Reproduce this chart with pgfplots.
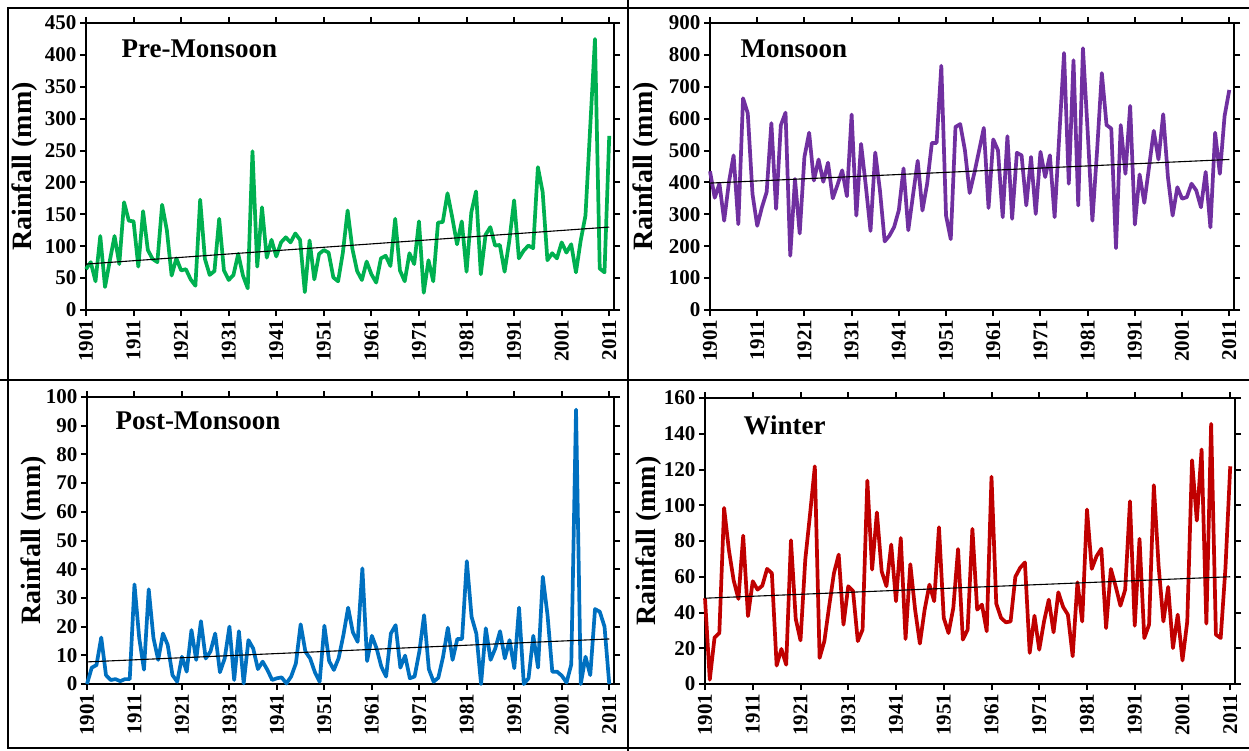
\documentclass[border=0pt]{standalone}
\usepackage{fontspec}
\setmainfont{Liberation Serif}
\usepackage{pgfplots}
\usepackage{pgfplotstable}
\pgfplotsset{compat=1.18}

\definecolor{premon}{RGB}{0,176,80}
\definecolor{mon}{RGB}{112,48,160}
\definecolor{postmon}{RGB}{0,112,192}
\definecolor{winter}{RGB}{192,0,0}

% Seasonal rainfall (mm), 1901-2011
\pgfplotstableread{
year pre mon post win
1901 64 435 0 48
1902 75 352 5.7 2.4
1903 45 396 6.6 26
1904 116 280 16.2 28.5
1905 36 400 3.1 98.5
1906 77 485 1.4 75
1907 116 269 1.7 58
1908 72 664 1.0 47.6
1909 169 617 1.7 83
1910 140 364 1.7 38
1911 139 264 34.7 57.5
1912 68 322 16 52.8
1913 155 370 5 55
1914 94 586 33 64.4
1915 80 317 16 62
1916 75 579 8.4 10.3
1917 165 619 17.6 19.6
1918 125 170 13.6 10.8
1919 54 411 3.1 80.4
1920 81 240 0.8 36.4
1921 62 480 9.5 24.4
1922 64 556 4.3 69.6
1923 48 406 18.8 95
1924 38 472 8.4 121.8
1925 173 402 21.9 14.6
1926 80 462 8.9 24
1927 55 350 11.3 43.5
1928 61 392 17.6 62
1929 143 438 4.1 72.4
1930 62 357 8.9 33.2
1931 47 613 20 54.7
1932 55 296 1.4 52
1933 88 521 18.4 24
1934 54 390 0.2 30.4
1935 34 248 15.3 113.8
1936 249 494 12.4 64
1937 68 375 5.2 96
1938 161 215 7.8 63
1939 82 233 4.9 54.7
1940 110 260 1.4 78
1941 84 313 2.0 46.3
1942 106 444 2.3 81.7
1943 114 250 0.2 25.2
1944 106 360 2.6 67
1945 120 468 7.2 41.6
1946 110 312 20.8 22.6
1947 28 396 11.3 41.6
1948 109 524 8.9 55.6
1949 48 524 4.1 46.3
1950 88 766 0.8 87.7
1951 94 296 20.3 37
1952 90 222 8 28.5
1953 51 574 4.9 42.5
1954 45 583 9 75.5
1955 90 501 17 24.8
1956 156 367 26.6 30.4
1957 96 430 18 86.8
1958 61 500 14.7 41.6
1959 47 571 40.3 44.4
1960 76 320 8 29.5
1961 56 535 16.8 115.9
1962 43 501 12.4 45
1963 81 291 6 37
1964 85 545 2.6 34.5
1965 69 286 17.6 35
1966 143 493 20.5 60
1967 62 485 5.7 65
1968 45 328 9.9 68
1969 89 480 2.0 17.4
1970 72 301 2.6 38.2
1971 139 496 11.3 19.2
1972 27 417 24 35
1973 78 485 5.2 47.2
1974 45 291 0.8 28.9
1975 137 550 2.2 51.3
1976 138 806 9.5 43.1
1977 183 396 19.6 38.8
1978 145 783 8.4 15.5
1979 103 328 15.7 56.9
1980 139 821 15.7 35
1981 60 560 42.8 97.6
1982 153 280 23.4 64.4
1983 186 501 17.6 71.5
1984 56 743 0 75.7
1985 118 580 19.4 31.3
1986 130 569 8.4 64.4
1987 101 194 12.4 54.7
1988 102 580 18.4 43.8
1989 60 427 8.9 52.8
1990 109 640 15.3 102.2
1991 172 268 5.5 32.6
1992 81 425 26.6 81.2
1993 93 336 0 25.7
1994 101 448 2.0 33.2
1995 97 562 16.8 111.2
1996 224 472 5.7 65.9
1997 185 614 37.4 35
1998 78 417 24 54.3
1999 89 296 4.3 20.1
2000 81 385 4.3 38.8
2001 106 349 2.9 13.2
2002 90 354 0.5 35
2003 103 396 6.8 125.2
2004 59 375 95.6 91.4
2005 109 322 0 131.2
2006 148 433 9.5 33.8
2007 287 259 3.1 145.5
2008 425 556 26.1 27.6
2009 65 427 25.2 25.7
2010 59 608 20 65
2011 273 690 0 121.8
}\seasons

\pgfplotsset{
  panel/.style={
    scale only axis,
    anchor=south west,
    xmin=1901, xmax=2012,
    xtick={1901,1911,...,2011},
    ymin=0,
    axis line style={line width=2.2pt},
    tick align=outside,
    major tick length=6pt,
    every tick/.style={black, line width=2pt},
    tick label style={font=\fontsize{21}{21}\selectfont\bfseries},
    xticklabel style={rotate=90, anchor=east},
    /pgf/number format/assume math mode=true,
    /pgf/number format/1000 sep={},
    ylabel={Rainfall (mm)},
    ylabel style={font=\fontsize{28}{28}\selectfont\bfseries, anchor=center},
    clip=false,
  },
}
\tikzset{
  series/.style={line width=3.7pt, line join=round},
  trend/.style={black, line width=1.1pt},
  season/.style={anchor=base west, font=\fontsize{27}{27}\selectfont\bfseries},
}

\begin{document}
\begin{tikzpicture}
\path[use as bounding box] (0pt,0pt) rectangle (1249pt,-751pt);
% panel frame
\draw[line width=1.6pt] (628pt,0pt) -- (628pt,-751pt);
\draw[line width=1.6pt] (0pt,-380pt) -- (1249pt,-380pt);
\draw[line width=1.6pt] (1249pt,-8pt) -- (8pt,-8pt) -- (8pt,-748pt) -- (1249pt,-748pt);

% Pre-Monsoon
\begin{axis}[panel, at={(86pt,-310pt)}, width=528pt, height=287pt,
  ymax=450, ytick distance=50,
  ylabel style={at={(axis description cs:-0.117,0.5)}}]
\addplot[series, premon] table[x=year, y=pre] {\seasons};
\addplot[trend] coordinates {(1901,72) (2011,130)};
\node[season] at (rel axis cs:0.0606,0.8815) {Pre-Monsoon};
\end{axis}

% Monsoon
\begin{axis}[panel, at={(710pt,-310pt)}, width=524pt, height=287pt,
  ymax=900, ytick distance=100,
  ylabel style={at={(axis description cs:-0.122,0.5)}}]
\addplot[series, mon] table[x=year, y=mon] {\seasons};
\addplot[trend] coordinates {(1901,398) (2011,472)};
\node[season] at (rel axis cs:0.0515,0.8815) {Monsoon};
\end{axis}

% Post-Monsoon
\begin{axis}[panel, at={(87pt,-684pt)}, width=527pt, height=287pt,
  ymax=100, ytick distance=10,
  ylabel style={at={(axis description cs:-0.102,0.5)}}]
\addplot[series, postmon] table[x=year, y=post] {\seasons};
\addplot[trend] coordinates {(1901,7.7) (2011,15.7)};
\node[season] at (rel axis cs:0.0474,0.8885) {Post-Monsoon};
\end{axis}

% Winter
\begin{axis}[panel, at={(705pt,-684pt)}, width=530pt, height=286pt,
  ymax=160, ytick distance=20,
  ylabel style={at={(axis description cs:-0.106,0.5)}}]
\addplot[series, winter] table[x=year, y=win] {\seasons};
\addplot[trend] coordinates {(1901,48) (2011,60)};
\node[season] at (rel axis cs:0.066,0.871) {Winter};
\end{axis}
\end{tikzpicture}
\end{document}
